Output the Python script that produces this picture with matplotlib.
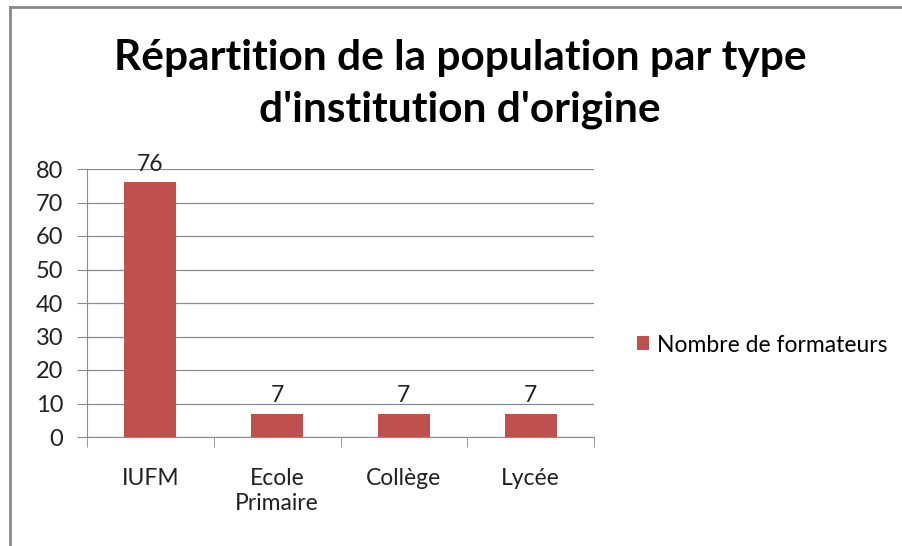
import numpy as np
import matplotlib.pyplot as plt
from matplotlib.lines import Line2D

categories = ['IUFM', 'Ecole\nPrimaire', 'Collège', 'Lycée']
values = [76, 7, 7, 7]
series_name = 'Nombre de formateurs'
title = "Répartition de la population par type\nd'institution d'origine"

plt.rcParams['font.family'] = ['Lato', 'DejaVu Sans']

fig = plt.figure(figsize=(9.02, 5.46), dpi=100)
ax = fig.add_axes([87 / 902, 1 - 437 / 546, (594 - 87) / 902, (437 - 169) / 546])

x = np.arange(len(categories))
bars = ax.bar(x, values, width=0.41, color='#C0504D', label=series_name, zorder=3)
for b, v in zip(bars, values):
    ax.text(b.get_x() + b.get_width() / 2, v + 2.3, str(v), ha='center', va='bottom',
            fontsize=16.5, color='#222222')

ax.set_xlim(-0.5, len(categories) - 0.5)
ax.set_ylim(0, 80)
ax.set_yticks(range(0, 81, 10))
ax.yaxis.grid(True, color='#8c8c8c', linewidth=0.9, zorder=0)
ax.set_xticks(x)
ax.set_xticklabels(categories, fontsize=16.5, color='#222222', linespacing=1.25)
ax.set_xticks(np.arange(-0.5, len(categories), 1), minor=True)
ax.tick_params(axis='x', which='major', length=0, pad=22)
ax.tick_params(axis='x', which='minor', length=7, color='#8c8c8c', direction='out')
ax.tick_params(axis='y', labelsize=17, labelcolor='#222222', length=7, color='#8c8c8c',
               pad=10)
for s in ['top', 'right']:
    ax.spines[s].set_visible(False)
for s in ['left', 'bottom']:
    ax.spines[s].set_color('#8c8c8c')

fig.text(460 / 902, 1 - 84 / 546, title, ha='center', va='center', fontsize=30.5,
         fontweight='bold', linespacing=1.42)

fig.legend(handles=[bars], labels=[series_name], loc='center left',
           bbox_to_anchor=(616 / 902, 1 - 345 / 546), frameon=False, fontsize=16.5,
           handlelength=0.55, handleheight=0.55, handletextpad=0.35)

# border around chart area
fig.add_artist(Line2D([10 / 902, 10 / 902], [0, 1 - 7 / 546], color='#888888', lw=2))
fig.add_artist(Line2D([10 / 902, 1], [1 - 7 / 546, 1 - 7 / 546], color='#888888', lw=2))

fig.savefig('out.png', dpi=100)
